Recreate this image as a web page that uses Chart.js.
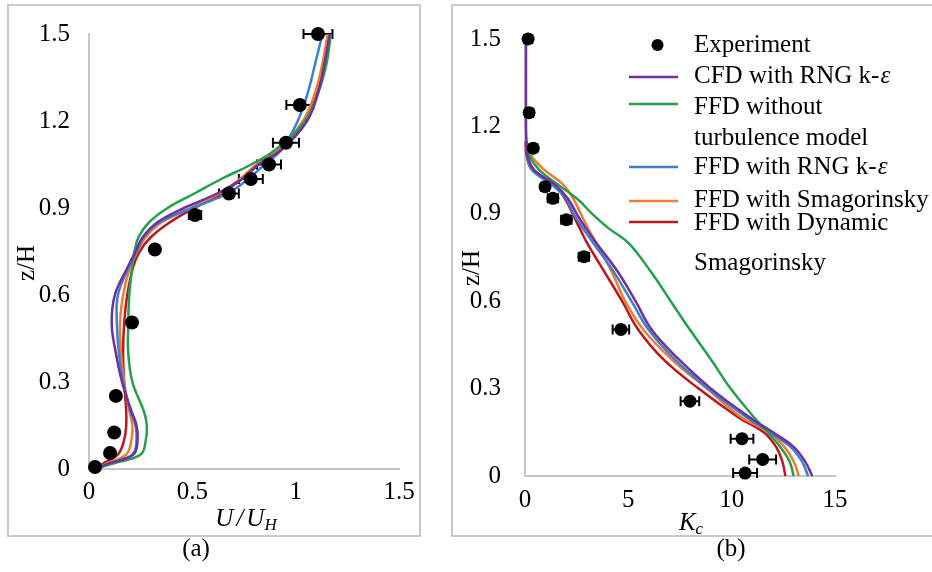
<!DOCTYPE html>
<html>
<head>
<meta charset="utf-8">
<script src="https://cdn.jsdelivr.net/npm/chart.js@4.4.1/dist/chart.umd.min.js"></script>
<style>
  html, body { margin: 0; padding: 0; background: #fff; }
  #page { position: relative; width: 932px; height: 572px; overflow: hidden; }
  .box { position: absolute; border: 2px solid #c9c9c9; box-sizing: border-box; }
  canvas { position: absolute; top: 0; }
</style>
</head>
<body>
<div id="page">
  <div class="box" style="left:7px; top:4px; width:414px; height:533px;"></div>
  <div class="box" style="left:451px; top:4px; width:520px; height:533px;"></div>
  <canvas id="chartA" width="440" height="572" style="left:0"></canvas>
  <canvas id="chartB" width="492" height="572" style="left:440px"></canvas>
</div>
<script>
// (a) velocity U/U_H against z/H
const aExpZ = [1.5, 1.255, 1.125, 1.05, 1.0, 0.95, 0.876, 0.757, 0.505, 0.252, 0.126, 0.055, 0.007];
const aExpU = [1.108, 1.02, 0.953, 0.871, 0.783, 0.677, 0.513, 0.319, 0.208, 0.13, 0.122, 0.102, 0.029];
const aExpErr = [0.07, 0.065, 0.063, 0.058, 0.058, 0.048, 0.03, 0, 0, 0, 0, 0, 0];

const aZ = [0, 0.02, 0.05, 0.1, 0.15, 0.2, 0.3, 0.4, 0.5, 0.6, 0.7, 0.75, 0.8, 0.85, 0.9, 0.95, 1.0, 1.05, 1.1, 1.2, 1.3, 1.4, 1.5];
const aCfdRng  = [0.03, 0.10, 0.215, 0.235, 0.23, 0.205, 0.16, 0.13, 0.11, 0.125, 0.19, 0.225, 0.26, 0.33, 0.46, 0.62, 0.74, 0.82, 0.93, 1.055, 1.11, 1.14, 1.165];
const aFfdNone = [0.03, 0.12, 0.25, 0.275, 0.28, 0.265, 0.21, 0.19, 0.19, 0.195, 0.21, 0.22, 0.24, 0.29, 0.38, 0.51, 0.64, 0.785, 0.90, 1.045, 1.11, 1.15, 1.17];
const aFfdRng  = [0.03, 0.10, 0.21, 0.23, 0.225, 0.2, 0.165, 0.145, 0.135, 0.14, 0.195, 0.23, 0.265, 0.34, 0.50, 0.67, 0.77, 0.85, 0.93, 1.01, 1.06, 1.095, 1.13];
const aFfdSmag = [0.03, 0.09, 0.18, 0.205, 0.21, 0.195, 0.17, 0.155, 0.15, 0.165, 0.2, 0.235, 0.275, 0.35, 0.49, 0.63, 0.73, 0.81, 0.91, 1.035, 1.095, 1.13, 1.155];
const aFfdDyn  = [0.03, 0.07, 0.14, 0.17, 0.18, 0.18, 0.17, 0.165, 0.17, 0.185, 0.215, 0.245, 0.3, 0.39, 0.51, 0.64, 0.74, 0.82, 0.915, 1.045, 1.10, 1.14, 1.16];
const aTicksX = [0, 0.5, 1, 1.5];
const aTicksY = [0, 0.3, 0.6, 0.9, 1.2, 1.5];

// (b) concentration K_c against z/H
const bExpZ = [1.5, 1.247, 1.125, 0.993, 0.953, 0.88, 0.753, 0.503, 0.257, 0.128, 0.057, 0.01];
const bExpK = [0.15, 0.2, 0.4, 0.97, 1.35, 2.0, 2.85, 4.64, 7.98, 10.5, 11.5, 10.65];
const bExpErr = [0.2, 0.2, 0.2, 0.2, 0.25, 0.25, 0.25, 0.4, 0.45, 0.55, 0.65, 0.58];

const bZ = [1.5, 1.2, 1.15, 1.1, 1.05, 1.0, 0.95, 0.9, 0.85, 0.8, 0.7, 0.6, 0.5, 0.4, 0.3, 0.2, 0.15, 0.1, 0.05, 0];
const bCfdRng  = [0.05, 0.05, 0.07, 0.12, 0.45, 1.45, 2.1, 2.5, 2.95, 3.45, 4.5, 5.35, 6.15, 7.45, 9.0, 10.9, 12.0, 13.0, 13.55, 13.9];
const bFfdNone = [null, null, 0.05, 0.2, 0.7, 1.6, 2.55, 3.25, 4.05, 5.0, 6.1, 7.05, 8.0, 9.0, 9.95, 11.1, 11.75, 12.35, 12.8, 13.0];
const bFfdRng  = [null, null, 0.05, 0.1, 0.35, 1.3, 2.0, 2.35, 2.8, 3.3, 4.3, 5.15, 6.0, 7.25, 8.85, 10.75, 11.85, 12.85, 13.4, 13.7];
const bFfdSmag = [null, null, 0.05, 0.3, 0.95, 1.85, 2.35, 2.7, 3.05, 3.45, 4.2, 4.85, 5.75, 7.1, 8.8, 10.5, 11.8, 12.55, 13.0, 13.25];
const bFfdDyn  = [null, null, 0.03, 0.08, 0.35, 1.4, 1.95, 2.3, 2.65, 3.0, 3.85, 4.7, 5.5, 6.7, 8.4, 10.35, 11.55, 12.15, 12.45, 12.6];
const bTicksX = [0, 5, 10, 15];
const bTicksY = [0, 0.3, 0.6, 0.9, 1.2, 1.5];

const seriesNames = ['Experiment', 'CFD with RNG k-ε', 'FFD without turbulence model', 'FFD with RNG k-ε', 'FFD with Smagorinsky', 'FFD with Dynamic Smagorinsky'];
const legendLines = [['Experiment'], ['CFD with RNG k-ε'], ['FFD without', 'turbulence model'], ['FFD with RNG k-ε'], ['FFD with Smagorinsky'], ['FFD with Dynamic', 'Smagorinsky']];
const seriesColors = ['#000000', '#7030a0', '#22a04b', '#3c7fd1', '#ed7d31', '#c0141c'];

const SERIF = '"Liberation Serif", "Times New Roman", serif';

const pairUp = (xs, zs) => zs.map((z, i) => xs[i] == null ? null : { x: xs[i], y: z }).filter(p => p);

function makeSets(expX, expZ, grid, curves, dotR) {
  const sets = [{
    label: seriesNames[0],
    data: pairUp(expX, expZ),
    pointRadius: dotR,
    pointBackgroundColor: '#000',
    pointBorderWidth: 0,
    showLine: false,
    clip: false
  }];
  curves.forEach((c, i) => {
    sets.push({
      label: seriesNames[i + 1],
      data: pairUp(c, grid),
      showLine: true,
      borderColor: seriesColors[i + 1],
      borderWidth: 2.5,
      pointRadius: 0,
      tension: 0.4,
      clip: false
    });
  });
  return sets;
}

// horizontal error bars on the experiment points
const errorBars = {
  id: 'errorBars',
  beforeDatasetsDraw(chart, args, opts) {
    const { ctx, scales: { x, y } } = chart;
    const pts = chart.data.datasets[0].data;
    ctx.save();
    ctx.strokeStyle = '#000';
    ctx.lineWidth = 2;
    pts.forEach((p, i) => {
      const e = opts.err[i];
      if (!e) return;
      const x0 = x.getPixelForValue(p.x - e);
      const x1 = x.getPixelForValue(p.x + e);
      const yy = y.getPixelForValue(p.y);
      ctx.beginPath();
      ctx.moveTo(x0, yy); ctx.lineTo(x1, yy);
      ctx.moveTo(x0, yy - 5); ctx.lineTo(x0, yy + 5);
      ctx.moveTo(x1, yy - 5); ctx.lineTo(x1, yy + 5);
      ctx.stroke();
    });
    ctx.restore();
  }
};

function drawParts(ctx, parts, cx, cy) {
  let w = 0;
  parts.forEach(p => {
    ctx.font = 'italic ' + p[1] + 'px ' + SERIF;
    w += ctx.measureText(p[0]).width + (p[3] || 0);
  });
  let x = cx - w / 2;
  ctx.textAlign = 'left';
  parts.forEach(p => {
    ctx.font = 'italic ' + p[1] + 'px ' + SERIF;
    ctx.fillText(p[0], x, cy + p[2]);
    x += ctx.measureText(p[0]).width + (p[3] || 0);
  });
}

// axis titles and panel caption
const axisText = {
  id: 'axisText',
  afterDraw(chart, args, o) {
    const ctx = chart.ctx;
    ctx.save();
    ctx.fillStyle = '#000';
    ctx.textBaseline = 'middle';
    ctx.save();
    ctx.translate(o.yTitle[0], o.yTitle[1]);
    ctx.rotate(-Math.PI / 2);
    ctx.textAlign = 'center';
    ctx.font = '25px ' + SERIF;
    ctx.fillText('z/H', 0, 0);
    ctx.restore();
    drawParts(ctx, o.xParts, o.xTitle[0], o.xTitle[1]);
    ctx.textAlign = 'center';
    ctx.font = '25px ' + SERIF;
    ctx.fillText(o.caption, o.capPos[0], o.capPos[1]);
    ctx.restore();
  }
};

function drawLabel(ctx, text, x, y) {
  const k = text.indexOf('ε');
  ctx.font = '25px ' + SERIF;
  if (k < 0) { ctx.fillText(text, x, y); return; }
  const head = text.slice(0, k);
  ctx.fillText(head, x, y);
  const w = ctx.measureText(head).width;
  ctx.font = 'italic 25px ' + SERIF;
  ctx.fillText('ε', x + w + 1, y);
}

// legend placed inside panel (b)
const sideLegend = {
  id: 'sideLegend',
  afterDraw(chart, args, o) {
    const ctx = chart.ctx;
    ctx.save();
    ctx.textBaseline = 'middle';
    ctx.textAlign = 'left';
    ctx.fillStyle = '#000';
    chart.data.datasets.forEach((ds, i) => {
      const my = o.marks[i];
      if (i === 0) {
        ctx.beginPath();
        ctx.arc((o.lineX[0] + o.lineX[1]) / 2 + 4, my, 6, 0, Math.PI * 2);
        ctx.fill();
      } else {
        ctx.strokeStyle = ds.borderColor;
        ctx.lineWidth = 2.5;
        ctx.beginPath();
        ctx.moveTo(o.lineX[0], my);
        ctx.lineTo(o.lineX[1], my);
        ctx.stroke();
      }
      legendLines[i].forEach((t, j) => drawLabel(ctx, t, o.textX, o.rows[i][j]));
    });
    ctx.restore();
  }
};

function axes(tx, ty, xmin, xmax, yw, xh, ypad, xpad) {
  const font = { family: SERIF, size: 25 };
  return {
    x: {
      type: 'linear', min: xmin, max: xmax,
      afterBuildTicks: s => { s.ticks = tx.map(v => ({ value: v })); },
      afterFit: s => { s.height = xh; },
      grid: { display: false, drawTicks: false },
      border: { display: true, color: '#c6c6c6', width: 2 },
      ticks: { padding: xpad, color: '#000', font, maxRotation: 0, callback: v => String(v) }
    },
    y: {
      type: 'linear', min: 0, max: 1.5,
      afterBuildTicks: s => { s.ticks = ty.map(v => ({ value: v })); },
      afterFit: s => { s.width = yw; },
      grid: { display: false, drawTicks: false },
      border: { display: true, color: '#c6c6c6', width: 2 },
      ticks: { padding: ypad, color: '#000', font, callback: v => String(v) }
    }
  };
}

new Chart(document.getElementById('chartA'), {
  type: 'scatter',
  data: { datasets: makeSets(aExpU, aExpZ, aZ, [aCfdRng, aFfdNone, aFfdRng, aFfdSmag, aFfdDyn], 7) },
  options: {
    responsive: false,
    animation: false,
    layout: { padding: { left: 0, right: 41, top: 29, bottom: 0 } },
    plugins: {
      legend: { display: false },
      tooltip: { enabled: false },
      errorBars: { err: aExpErr },
      axisText: {
        yTitle: [27, 263],
        xTitle: [246, 519],
        xParts: [['U', 25, 0, 3], ['/', 25, 0, 3], ['U', 25, 0, 0], ['H', 17, 7, 0]],
        caption: '(a)',
        capPos: [196, 549]
      }
    },
    scales: axes(aTicksX, aTicksY, 0, 1.5, 89, 103, 19, 8)
  },
  plugins: [errorBars, axisText]
});

new Chart(document.getElementById('chartB'), {
  type: 'scatter',
  data: { datasets: makeSets(bExpK, bExpZ, bZ, [bCfdRng, bFfdNone, bFfdRng, bFfdSmag, bFfdDyn], 6.5) },
  options: {
    responsive: false,
    animation: false,
    layout: { padding: { left: 0, right: 97, top: 32, bottom: 0 } },
    plugins: {
      legend: { display: false },
      tooltip: { enabled: false },
      errorBars: { err: bExpErr },
      axisText: {
        yTitle: [32, 268],
        xTitle: [251, 523],
        xParts: [['K', 25, 0, 0], ['c', 17, 7, 0]],
        caption: '(b)',
        capPos: [291, 549]
      },
      sideLegend: {
        lineX: [189, 238],
        textX: 254,
        marks: [45, 77, 104, 167, 201, 222],
        rows: [[45], [76], [107, 138], [167], [200], [223, 263]]
      }
    },
    scales: axes(bTicksX, bTicksY, 0, 15, 85, 96, 24, 9)
  },
  plugins: [errorBars, axisText, sideLegend]
});
</script>
</body>
</html>
